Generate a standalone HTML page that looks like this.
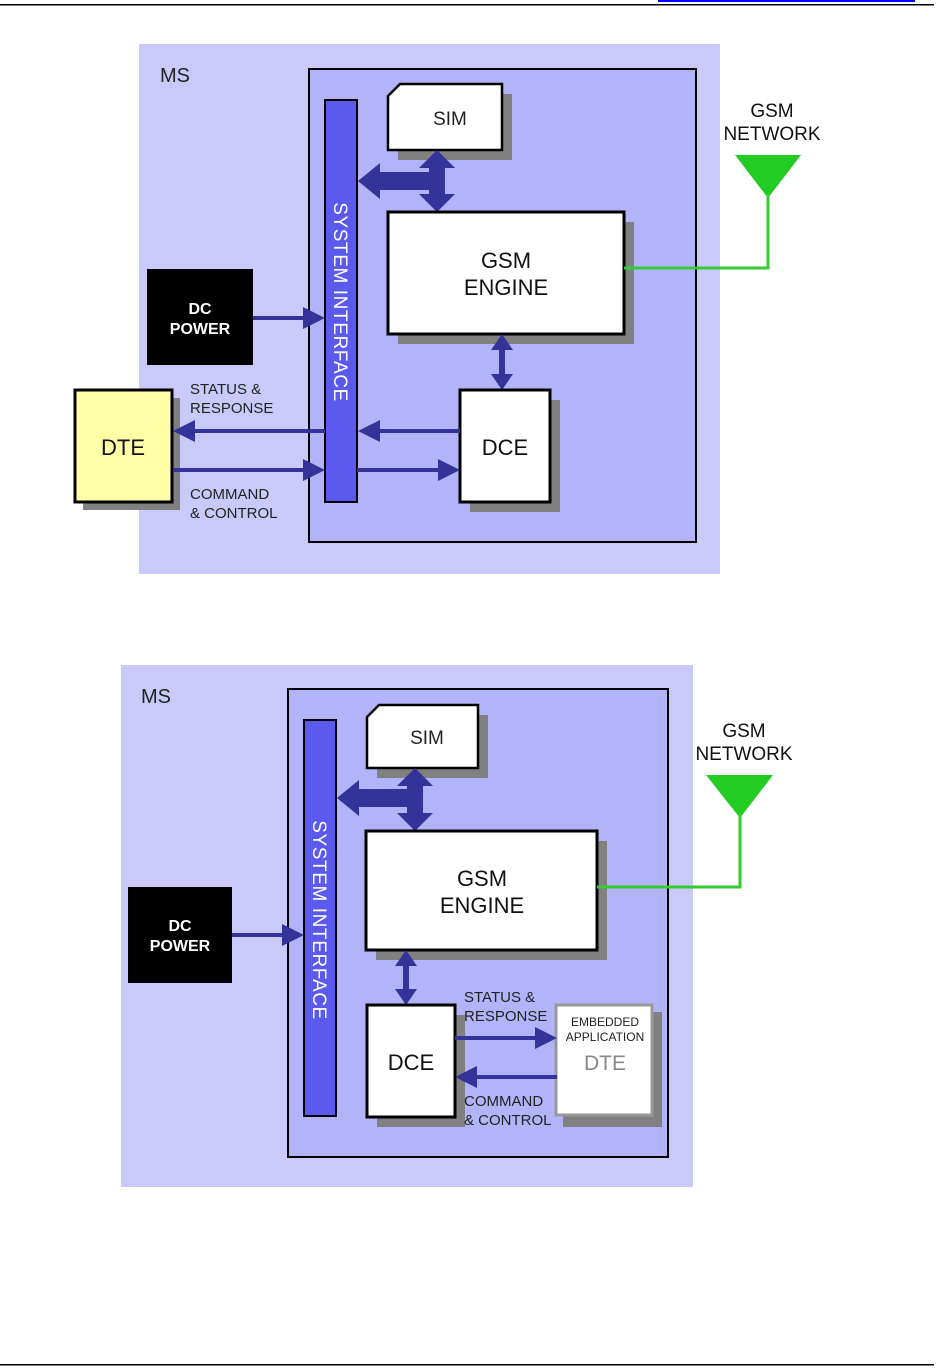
<!DOCTYPE html>
<html><head><meta charset="utf-8"><style>
html,body{margin:0;padding:0;background:#fff;}
svg{display:block;}
text{font-family:"Liberation Sans",Arial,sans-serif;}
</style></head><body>
<svg width="939" height="1368" viewBox="0 0 939 1368" xmlns="http://www.w3.org/2000/svg">
<rect x="658" y="0" width="257" height="2" fill="#0000ff"/>
<rect x="0" y="4" width="934" height="1.5" fill="#000"/>
<rect x="0" y="1364" width="934" height="1.5" fill="#000"/>

<!-- ============ DIAGRAM 1 ============ -->
<rect x="139" y="44" width="581" height="530" fill="#c9c9fa"/>
<text x="160" y="82" font-size="20" fill="#222">MS</text>
<rect x="309" y="69" width="387" height="473" fill="#b3b3fa" stroke="#000" stroke-width="2"/>
<rect x="325" y="100" width="32" height="402" fill="#5a5aee" stroke="#000" stroke-width="2"/>
<text transform="translate(334,302) rotate(90)" font-size="19" letter-spacing="0.6" fill="#fff" text-anchor="middle">SYSTEM  INTERFACE</text>
<path d="M398,94 L512,94 L512,160 L398,160 Z" fill="#808080"/>
<path d="M400,84 L502,84 L502,150 L388,150 L388,96 Z" fill="#fff" stroke="#000" stroke-width="2.5"/>
<text x="450" y="125" font-size="19" fill="#222" text-anchor="middle">SIM</text>
<g fill="#333399">
<rect x="429" y="164" width="16" height="34"/>
<polygon points="437,150 455,168 419,168"/>
<polygon points="437,212 455,194 419,194"/>
<rect x="378" y="172" width="60" height="18"/>
<polygon points="358,181 380,163 380,199"/>
</g>
<rect x="398" y="222" width="236" height="122" fill="#808080"/>
<rect x="388" y="212" width="236" height="122" fill="#fff" stroke="#000" stroke-width="3"/>
<text x="506" y="268" font-size="22" fill="#111" text-anchor="middle">GSM</text>
<text x="506" y="295" font-size="22" fill="#111" text-anchor="middle">ENGINE</text>
<g fill="#333399"><rect x="499" y="348" width="6" height="30"/><polygon points="502,334 513,350 491,350"/><polygon points="502,390 513,374 491,374"/></g>
<rect x="470" y="400" width="90" height="112" fill="#808080"/>
<rect x="460" y="390" width="90" height="112" fill="#fff" stroke="#000" stroke-width="3"/>
<text x="505" y="455" font-size="22" fill="#111" text-anchor="middle">DCE</text>
<rect x="147" y="269" width="106" height="96" fill="#000"/>
<text x="200" y="314" font-size="16" font-weight="bold" fill="#fff" text-anchor="middle">DC</text>
<text x="200" y="334" font-size="16" font-weight="bold" fill="#fff" text-anchor="middle">POWER</text>
<g fill="#333399"><rect x="253" y="316" width="55" height="4"/><polygon points="325,318 303,307 303,329"/></g>
<rect x="83" y="398" width="97" height="112" fill="#808080"/>
<rect x="75" y="390" width="97" height="112" fill="#ffffa8" stroke="#000" stroke-width="3"/>
<text x="123" y="455" font-size="22" fill="#111" text-anchor="middle">DTE</text>
<g fill="#333399">
<rect x="190" y="429" width="135" height="4"/><polygon points="173,431 195,420 195,442"/>
<rect x="376" y="429" width="84" height="4"/><polygon points="358,431 380,420 380,442"/>
<rect x="173" y="468" width="135" height="4"/><polygon points="325,470 303,459 303,481"/>
<rect x="357" y="468" width="86" height="4"/><polygon points="460,470 438,459 438,481"/>
</g>
<text x="190" y="394" font-size="15" fill="#222">STATUS &amp;</text>
<text x="190" y="413" font-size="15" fill="#222">RESPONSE</text>
<text x="190" y="499" font-size="15" fill="#222">COMMAND</text>
<text x="190" y="518" font-size="15" fill="#222">&amp; CONTROL</text>
<text x="772" y="117" font-size="19" fill="#111" text-anchor="middle">GSM</text>
<text x="772" y="140" font-size="19" fill="#111" text-anchor="middle">NETWORK</text>
<polygon points="735,155 801,155 768,198" fill="#22cc22"/>
<polyline points="768,195 768,268 624,268" fill="none" stroke="#33cc33" stroke-width="3"/>

<!-- ============ DIAGRAM 2 ============ -->
<rect x="121" y="665" width="572" height="522" fill="#c9c9fa"/>
<text x="141" y="703" font-size="20" fill="#222">MS</text>
<rect x="288" y="689" width="380" height="468" fill="#b3b3fa" stroke="#000" stroke-width="2"/>
<rect x="304" y="720" width="32" height="396" fill="#5a5aee" stroke="#000" stroke-width="2"/>
<text transform="translate(313,920) rotate(90)" font-size="19" letter-spacing="0.6" fill="#fff" text-anchor="middle">SYSTEM  INTERFACE</text>
<path d="M377,715 L488,715 L488,778 L377,778 Z" fill="#808080"/>
<path d="M379,705 L478,705 L478,768 L367,768 L367,717 Z" fill="#fff" stroke="#000" stroke-width="2.5"/>
<text x="427" y="744" font-size="19" fill="#222" text-anchor="middle">SIM</text>
<g fill="#333399">
<rect x="407" y="782" width="16" height="34"/>
<polygon points="415,768 433,786 397,786"/>
<polygon points="415,831 433,813 397,813"/>
<rect x="357" y="789" width="60" height="18"/>
<polygon points="337,798 359,780 359,816"/>
</g>
<rect x="376" y="841" width="231" height="119" fill="#808080"/>
<rect x="366" y="831" width="231" height="119" fill="#fff" stroke="#000" stroke-width="3"/>
<text x="482" y="886" font-size="22" fill="#111" text-anchor="middle">GSM</text>
<text x="482" y="913" font-size="22" fill="#111" text-anchor="middle">ENGINE</text>
<g fill="#333399"><rect x="403" y="964" width="6" height="28"/><polygon points="406,950 417,966 395,966"/><polygon points="406,1005 417,989 395,989"/></g>
<rect x="377" y="1015" width="88" height="112" fill="#808080"/>
<rect x="367" y="1005" width="88" height="112" fill="#fff" stroke="#000" stroke-width="3"/>
<text x="411" y="1070" font-size="22" fill="#111" text-anchor="middle">DCE</text>
<rect x="563" y="1012" width="99" height="115" fill="#808080"/>
<rect x="556" y="1005" width="96" height="110" fill="#fff" stroke="#999" stroke-width="3"/>
<text x="605" y="1026" font-size="12" fill="#222" text-anchor="middle">EMBEDDED</text>
<text x="605" y="1041" font-size="12" fill="#222" text-anchor="middle">APPLICATION</text>
<text x="605" y="1070" font-size="21" fill="#888" text-anchor="middle">DTE</text>
<g fill="#333399">
<rect x="455" y="1036" width="85" height="4"/><polygon points="557,1038 535,1027 535,1049"/>
<rect x="472" y="1075" width="85" height="4"/><polygon points="455,1077 477,1066 477,1088"/>
</g>
<text x="464" y="1002" font-size="15" fill="#222">STATUS &amp;</text>
<text x="464" y="1021" font-size="15" fill="#222">RESPONSE</text>
<text x="464" y="1106" font-size="15" fill="#222">COMMAND</text>
<text x="464" y="1125" font-size="15" fill="#222">&amp; CONTROL</text>
<rect x="128" y="887" width="104" height="96" fill="#000"/>
<text x="180" y="931" font-size="16" font-weight="bold" fill="#fff" text-anchor="middle">DC</text>
<text x="180" y="951" font-size="16" font-weight="bold" fill="#fff" text-anchor="middle">POWER</text>
<g fill="#333399"><rect x="232" y="933" width="55" height="4"/><polygon points="304,935 282,924 282,946"/></g>
<text x="744" y="737" font-size="19" fill="#111" text-anchor="middle">GSM</text>
<text x="744" y="760" font-size="19" fill="#111" text-anchor="middle">NETWORK</text>
<polygon points="706,775 773,775 740,818" fill="#22cc22"/>
<polyline points="740,815 740,887 597,887" fill="none" stroke="#33cc33" stroke-width="3"/>
</svg>
</body></html>
